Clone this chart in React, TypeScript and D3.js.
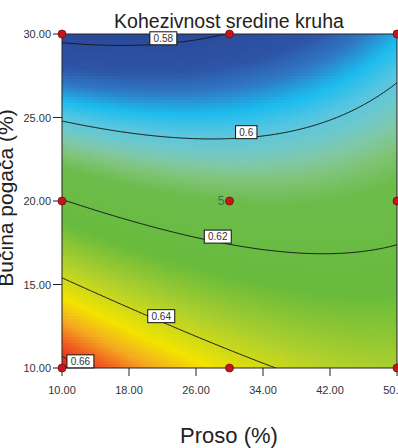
import React, { useMemo } from 'react';
import * as d3 from 'd3';

const title = 'Kohezivnost sredine kruha';
const xLabel = 'Proso (%)';
const yLabel = 'Bučina pogača (%)';
const xTicks = [10, 18, 26, 34, 42, 50];
const yTicks = [10, 15, 20, 25, 30];
const xDomain = [10, 50];
const yDomain = [10, 30];

// design points (Proso %, Bučina pogača %)
const designX = [10, 30, 50, 10, 30, 50, 10, 30, 50];
const designY = [30, 30, 30, 20, 20, 20, 10, 10, 10];
const replicateLabels = ['', '', '', '', '5', '', '', '', ''];

// quadratic response model in coded units A=(x-30)/20, B=(y-20)/10
// terms: intercept, A, B, AB, A^2, B^2
const modelCoefficients = [0.6118, -0.0029, -0.0316, 0.011, 0.0057, 0.0];

const contourLevels = [0.58, 0.6, 0.62, 0.64, 0.66];
const contourLabels = ['0.58', '0.6', '0.62', '0.64', '0.66'];
const contourLabelX = [22.1, 32.0, 28.6, 21.85, 12.2];

const colorStops = [0.577, 0.586, 0.5905, 0.595, 0.599, 0.602, 0.605, 0.608, 0.612, 0.626, 0.636, 0.645, 0.651, 0.656, 0.662];
const colorValues = ['#2a4898', '#2d54a6', '#2f78c4', '#1cbcee', '#58c6e0', '#6cc8cc', '#80c8a8', '#80c478', '#6cbc4c', '#68bb3c', '#b0d02c', '#f2e400', '#f4a820', '#f06020', '#e62420'];

const W = 398;
const H = 448;
const plot = { left: 62, right: 397, top: 34, bottom: 368 };

function response(x: number, y: number) {
  const A = (x - 30) / 20;
  const B = (y - 20) / 10;
  const c = modelCoefficients;
  return c[0] + c[1] * A + c[2] * B + c[3] * A * B + c[4] * A * A + c[5] * B * B;
}

export default function App() {
  const sx = d3.scaleLinear().domain(xDomain).range([plot.left, plot.right]);
  const sy = d3.scaleLinear().domain(yDomain).range([plot.bottom, plot.top]);
  const color = d3.scaleLinear<string>().domain(colorStops).range(colorValues).interpolate(d3.interpolateRgb).clamp(true);

  const cells = useMemo(() => {
    const out: { x: number; y: number; w: number; h: number; c: string }[] = [];
    const step = 3;
    for (let px = plot.left; px < plot.right; px += step) {
      for (let py = plot.top; py < plot.bottom; py += step) {
        const w = Math.min(step, plot.right - px);
        const h = Math.min(step, plot.bottom - py);
        const v = response(sx.invert(px + w / 2), sy.invert(py + h / 2));
        out.push({ x: px, y: py, w, h, c: color(v) });
      }
    }
    return out;
  }, []);

  const contourPaths = useMemo(() => {
    const x0 = 8, x1 = 52, y0 = 8, y1 = 32;
    const nx = 221, ny = 121;
    const dx = (x1 - x0) / (nx - 1);
    const dy = (y1 - y0) / (ny - 1);
    const vals = new Array(nx * ny);
    for (let j = 0; j < ny; j++) {
      for (let i = 0; i < nx; i++) {
        vals[j * nx + i] = response(x0 + i * dx, y0 + j * dy);
      }
    }
    const cs = d3.contours().size([nx, ny]).thresholds(contourLevels)(vals);
    const proj = d3.geoTransform({
      point(this: any, gx: number, gy: number) {
        this.stream.point(sx(x0 + (gx - 0.5) * dx), sy(y0 + (gy - 0.5) * dy));
      },
    });
    const path = d3.geoPath(proj as any);
    return cs.map((c) => path(c as any) || '');
  }, []);

  const labelPos = contourLevels.map((lv, k) => {
    const x = contourLabelX[k];
    let lo = 10, hi = 30;
    for (let it = 0; it < 50; it++) {
      const mid = (lo + hi) / 2;
      if (response(x, mid) > lv) lo = mid; else hi = mid;
    }
    return { x: sx(x), y: sy((lo + hi) / 2) };
  });

  return (
    <svg width={W} height={H} style={{ position: 'absolute', left: 0, top: 0, background: '#fff' }} fontFamily="'Liberation Sans', Arial, sans-serif">
      <defs>
        <clipPath id="plotClip">
          <rect x={plot.left} y={plot.top} width={plot.right - plot.left} height={plot.bottom - plot.top} />
        </clipPath>
      </defs>
      <g shapeRendering="crispEdges">
        {cells.map((c, i) => (
          <rect key={i} x={c.x} y={c.y} width={c.w} height={c.h} fill={c.c} />
        ))}
      </g>
      <g clipPath="url(#plotClip)">
        {contourPaths.map((d, i) => (
          <path key={i} d={d} fill="none" stroke="#1a1a1a" strokeWidth={1} />
        ))}
      </g>
      <rect x={plot.left} y={plot.top} width={plot.right - plot.left} height={plot.bottom - plot.top} fill="none" stroke="#222" strokeWidth={1} />
      {labelPos.map((p, k) => {
        const txt = contourLabels[k];
        const w = txt.length * 5.56 - (txt.includes('.') ? 2.78 : 0) + 7.5;
        const h = 13;
        return (
          <g key={k}>
            <rect x={p.x - w / 2} y={p.y - h + 1} width={w} height={h} fill="#fff" stroke="#111" strokeWidth={1} />
            <text x={p.x} y={p.y - 2} textAnchor="middle" fontSize={10} fill="#333">{txt}</text>
          </g>
        );
      })}
      {yTicks.map((t) => (
        <g key={t}>
          <line x1={plot.left - 9} x2={plot.left} y1={sy(t)} y2={sy(t)} stroke="#222" strokeWidth={1} />
          <text x={plot.left - 11} y={sy(t) + 4} textAnchor="end" fontSize={11} fill="#333">{t.toFixed(2)}</text>
        </g>
      ))}
      {xTicks.map((t) => (
        <g key={t}>
          <line x1={sx(t)} x2={sx(t)} y1={plot.bottom} y2={plot.bottom + 8} stroke="#222" strokeWidth={1} />
          <text x={sx(t)} y={plot.bottom + 26} textAnchor="middle" fontSize={11} fill="#333">{t.toFixed(2)}</text>
        </g>
      ))}
      {designX.map((x, i) => (
        <g key={i}>
          <circle cx={sx(x)} cy={sy(designY[i])} r={4} fill="#c4161c" stroke="#7a0b0b" strokeWidth={0.8} />
          {replicateLabels[i] && (
            <text x={sx(x) - 5} y={sy(designY[i]) + 4} textAnchor="end" fontSize={12} fill="#2a7a4a">{replicateLabels[i]}</text>
          )}
        </g>
      ))}
      <text x={229} y={28} textAnchor="middle" fontSize={19.5} fill="#222">{title}</text>
      <text x={229} y={443} textAnchor="middle" fontSize={22} fill="#222">{xLabel}</text>
      <text transform="translate(13,198) rotate(-90)" textAnchor="middle" fontSize={21} fill="#222">{yLabel}</text>
    </svg>
  );
}
